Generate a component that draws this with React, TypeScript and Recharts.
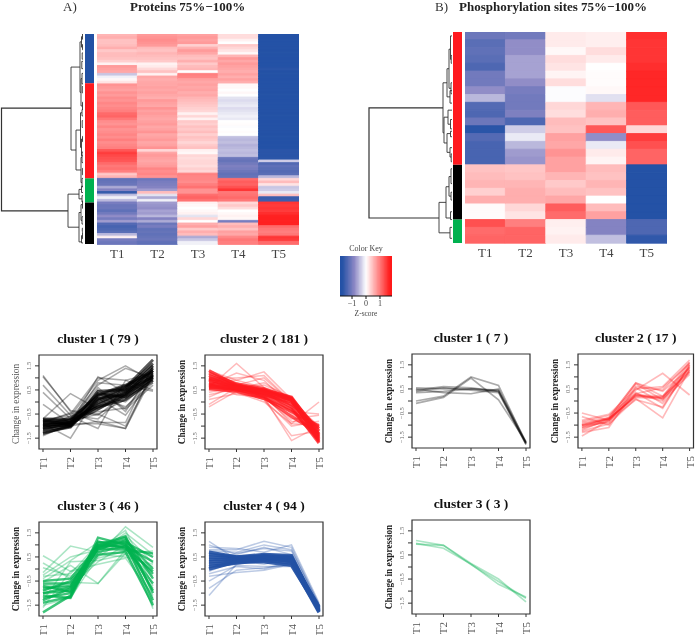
import React from "react";
import { LineChart, Line, XAxis, YAxis, BarChart, Bar, Cell, ReferenceArea } from "recharts";

const SERIF = "'Liberation Serif','Times New Roman',serif";
const timeLabels = ["T1", "T2", "T3", "T4", "T5"];

// ---------- Panel A heatmap columns (z-scores, rows top to bottom: blue 19, red 36, green 9, black 16) ----------
const heatA_T1 = [
  .55,.6,.45,.45,.5,.6,.4,.5,.5,.45,.35,.1,.75,.7,.65,-.4,-.1,.05,.2,
  .8,.75,.7,.8,.75,.85,.8,.9,.85,.9,.95,1.1,1.15,1.0,.85,.8,.9,.8,.85,.9,.85,.95,.85,.9,.95,1.25,1.45,1.35,1.3,1.25,1.1,1.0,1.05,.95,.4,.55,
  -1.2,-1.15,-1.1,-.6,-.9,-1.55,-.4,-.1,-.5,
  -1.0,-1.1,-1.1,-1.2,-1.05,-.8,-1.0,-.7,-1.3,-1.4,-1.35,-1.25,-.5,.1,-1.0,-1.1,
];
const heatA_T2 = [
  .75,.8,.85,.8,.75,.5,.45,.55,.5,.45,.4,.1,.15,.3,.45,.1,.65,.6,.65,
  .65,.7,.65,.7,.65,.6,.75,.7,.65,.8,.7,.75,.7,.65,.7,.75,.65,.7,.8,.65,.7,.75,.65,.7,.8,.3,.7,.75,.7,.65,.7,.75,.9,.85,.9,.8,
  -1.1,-1.0,-.95,-.9,-.7,.5,-.2,-.6,-.1,
  -.7,-.75,-.8,-.65,-.7,-.5,-.9,-.6,-1.1,-1.0,-1.2,-1.15,-1.2,-1.15,-1.1,-1.2,
];
const heatA_T3 = [
  .7,.75,.7,.75,.35,.6,.75,.65,.5,.45,.6,.4,.5,.55,.0,.95,.9,.7,.65,
  .7,.65,.7,.6,.65,.55,.5,.45,.4,.35,.3,.1,.3,.1,.4,.35,.45,.4,.5,.35,.45,.4,.3,.4,.45,.1,.05,.3,.25,.3,.3,.25,.35,.3,.95,.9,
  .9,.85,.95,1.05,.8,.8,1.1,1.15,1.05,
  .1,.05,0,.05,.1,-.2,.3,0,.6,.7,.4,.6,.5,-.6,-.4,-.1,
];
const heatA_T4 = [
  .25,.25,.1,0,.4,.3,.2,.05,.55,.75,.65,.75,.7,.65,.6,.7,.6,.7,.6,
  .05,.05,0,.05,0,-.2,-.25,-.2,-.15,-.25,-.2,-.15,-.1,-.15,0,.02,-.02,0,.02,0,-.45,-.5,-.45,-.55,-.5,-.45,-.5,-.45,-1.1,-1.15,-1.05,-.95,-1,-1.1,-1.2,-1.15,
  1.1,1.2,1.15,1.3,1.5,1.0,1.05,1.1,1.0,
  .3,.4,.25,0,.05,.1,.05,-1.0,.5,.6,.45,.7,.65,.9,1.0,.95,
];
const heatA_T5 = [
  -1.7,-1.7,-1.7,-1.7,-1.7,-1.7,-1.7,-1.7,-1.7,-1.7,-1.7,-1.7,-1.7,-1.65,-1.7,-1.7,-1.7,-1.7,-1.7,
  -1.7,-1.7,-1.7,-1.7,-1.7,-1.7,-1.7,-1.7,-1.7,-1.7,-1.7,-1.7,-1.7,-1.7,-1.7,-1.7,-1.7,-1.7,-1.7,-1.7,-1.7,-1.7,-1.7,-1.7,-1.7,-1.65,-1.65,-1.65,-1.65,-.35,-1.3,-1.2,-1.25,-1.3,-1.25,-.5,
  .3,.5,.2,-.4,-.35,-.15,.5,-1.5,-1.5,
  1.5,1.45,1.5,1.45,1.55,1.65,1.65,1.65,1.65,1.1,1.0,.95,1.0,1.5,1.45,1.1,
];

// ---------- Panel B heatmap columns (red 17, black 7, green 3) ----------
const heatB_T1 = [-1.1,-1.25,-1.2,-1.25,-1.35,-1.05,-1.05,-.8,-.5,-1.3,-1.35,-1.1,-1.65,-1.3,-1.4,-1.4,-1.4,.45,.5,.55,.35,.6,.03,.02,1.3,1.1,1.15];
const heatB_T2 = [-1.05,-.8,-.8,-.65,-.65,-.65,-.8,-1.0,-1.05,-1.05,-.95,-1.35,-.35,-.15,-.5,-.7,-.75,.42,.45,.55,.6,.6,.3,.2,.95,1.15,1.15];
const heatB_T3 = [.15,.15,.05,.25,.2,.08,.25,-.02,-.02,.3,.25,.5,.45,.7,.65,.8,.7,.7,.55,.4,.5,.65,1.2,1.1,.12,.1,.15];
const heatB_T4 = [.12,.12,.25,.15,.0,.02,.02,.05,-.22,.55,.6,.45,1.25,-.8,-.15,.15,.08,.5,.45,.55,.45,.0,.5,.7,-.9,-.9,-.45];
const heatB_T5 = [1.55,1.5,1.5,1.5,1.55,1.6,1.6,1.6,1.6,1.25,1.2,1.2,.3,1.45,1.3,1.15,1.15,-1.7,-1.7,-1.7,-1.7,-1.7,-1.7,-1.7,-1.35,-1.35,-1.6];

// ---------- Row side bars (cluster sizes) ----------
const sideA = [
  { name: "c4", size: 94, color: "#2251A4" },
  { name: "c2", size: 181, color: "#FF1A1F" },
  { name: "c3", size: 46, color: "#00B14F" },
  { name: "c1", size: 79, color: "#000000" },
];
const sideB = [
  { name: "c2", size: 17, color: "#FF1A1F" },
  { name: "c1", size: 7, color: "#000000" },
  { name: "c3", size: 3, color: "#00B14F" },
];

// ---------- Dendrograms: [left child height, top row, node height, bottom row, right child height] ----------
const dendroA = [
  [12,141,81.5,337,15],[3,63,12,221,7],[2.5,183,7,259,2],[1.5,15,3,111,2],
  [.5,5,1.5,25,.5],[1,85,2,137,.5],[0,75,1,95,0],[0,0,.5,10,0],[0,20,.5,30,0],[0,130,.5,144,0],
  [1,150,2.5,216,1.5],[0,144,1,156,0],[.5,200,1.5,232,0],[0,195,.5,205,0],
  [1,235,2,283,1],[0,225,1,245,0],[0,275,1,291,0],
  [4,305,15,368,4],[1.5,296,4,314,1],[0,290,1.5,302,0],[0,308,1,320,0],
  [2,340,4,396,1.5],[.5,325,2,355,1],[0,318,.5,332,0],[0,348,1,362,0],[.5,384,1.5,398,0],[0,378,.5,390,0],
  [0,36,.8,48,0],[0,52,1.2,66,0],[0,100,.7,112,0],[0,165,.8,178,0],[0,256,.6,268,0],[0,370,.7,376,0],
];
const dendroB = [
  [9,9.7,83,23.8,13],[5,6.5,9,12.9,8],[3,4.7,5,8.3,2],[1.5,2.2,3,7.2,1],[0,.5,1.5,3.5,.8],[0,3,.8,4,0],[0,6.5,1,7.9,0],[0,7.5,2,9.1,0],
  [4,10.9,8,14.2,5],[0,10,4,11.8,1.5],[0,11.2,1.5,12.4,0],[1.5,13,5,15.4,2],[0,12.7,1.5,13.4,0],[0,14.8,2,16,.8],[0,15.6,.8,16.6,0],
  [6,21.8,13,25.7,2],[3,19.8,6,23.8,1.5],[1,18.5,3,21,1],[0,17.5,1,19.4,0],[0,20.5,1,21.5,0],[0,23,1.5,24,0],[0,25,2,26.4,0],
];

// ---------- Colour key bins ----------
const keyBins = [-1.9,-1.8,-1.7,-1.6,-1.5,-1.4,-1.3,-1.2,-1.1,-1.0,-.9,-.8,-.7,-.6,-.5,-.4,-.3,-.2,-.1,0,.1,.2,.3,.4,.5,.6,.7,.8,.9,1.0,1.1,1.2,1.3,1.4,1.5,1.6,1.7,1.8,1.9];
const keyTicks = [-1, 0, 1];
const expressionTicks = [-1.5, -1, -.5, 0, .5, 1, 1.5];
const labelledTicks = [-1.5, -.5, .5, 1.5];

// ---------- Profile lines: [T1..T5]; "core" lines are the dense band, "faint" ones the outliers ----------
const a1Core = [
  [-.7,-.75,-.2,.25,1.1],[-.85,-.85,-.1,.4,1.3],[-.95,-.9,-.05,.45,1.5],[-1.05,-.95,.05,.55,1.6],[-1.15,-1,.1,.6,1.75],[-1.25,-1.05,.15,.3,1.4],
  [-.8,-.7,.25,.65,1.2],[-.9,-.8,.35,.2,1.0],[-1.0,-.85,-.2,.1,.9],[-1.1,-.9,-.3,.35,1.15],[-1.3,-1,.3,.7,1.3],[-.75,-.95,.45,.5,1.05],
];
const a1Faint = [
  [1.1,-.4,-.55,.35,.9],[1.05,-.35,-.5,.1,1.0],[.7,-.55,-.7,.3,1.05],[.4,-.7,.15,-.55,1.0],[-.1,-.9,-.9,-1.1,1.1],[-.7,.35,-.3,.2,.8],[-.9,-1.5,.3,.0,.95],
  [-1.4,-.9,1.05,.4,1.0],[-.8,-.5,1.0,.9,.5],[-1.0,-.6,.9,1.5,.85],[-1.1,-.7,.7,1.4,1.0],[-.7,-.6,-1.1,.9,1.2],[-.85,-.45,-.85,-.85,1.5],[-1,-1,-.8,-1.1,1.3],
  [-1.2,-.8,-.5,-1.0,1.2],[-.9,-1,.5,-.3,.7],[-1,-.9,.8,.7,.45],[-.75,-.8,.6,-.4,1.4],[-1.35,-1,.2,-.2,.8],[-.95,-.7,-.4,-.25,1.1],
];
const a2Core = [
  [.6,.55,.45,.15,-1.2],[.8,.65,.5,.2,-1.35],[1.0,.7,.45,.1,-1.5],[1.2,.75,.55,.15,-1.65],[.7,.5,.3,.0,-1.4],[.9,.6,.35,-.1,-1.1],
  [1.1,.65,.25,-.3,-1.6],[.55,.45,.15,-.4,-1.0],[.75,.55,.2,-.6,-1.3],[.95,.65,.4,-.2,-1.7],[1.3,.7,.5,.05,-1.45],[.65,.6,.4,.1,-1.55],
];
const a2Faint = [
  [-.2,.45,.55,.1,-1.3],[-.1,.6,.4,-.3,-1.2],[.1,.35,.2,-.8,-.9],[.2,.7,1.0,.0,-1.0],[.6,1.6,.6,-.5,-1.1],[.7,1.2,.9,-.2,-1.3],[.9,.9,1.25,.1,-1.5],[1.0,1.0,1.1,.0,-1.4],
  [.8,.3,.2,-1.6,-1.0],[.6,.45,.1,-1.4,-1.2],[.5,.4,.0,-.9,.0],[.7,.5,.3,-.4,-.5],[.85,.6,.2,-.7,-.55],[1.1,.8,.3,-.9,-.95],[.9,.5,.1,-1.0,-.8],[1.3,.9,.6,.2,-1.2],[.4,.6,.7,.2,-1.6],[.3,.55,.8,.1,-1.4],
];
const a3Core = [
  [-1.8,-1.1,.9,1.3,-.4],[-1.4,-1.15,1.3,1.0,-.2],[-1.2,-1.0,1.1,1.1,-.9],[-1.0,-.9,.9,1.0,-1.3],[-.8,-.7,1.0,.9,-.6],[-.6,-.6,.8,1.2,.0],
  [-1.1,-1.2,1.0,1.35,-1.0],[-.9,-.5,.7,.95,.3],[-1.3,-.8,.85,.8,.65],[-.7,-.95,.6,.7,-1.5],[-.5,-.4,.95,1.1,.5],[-1.0,-.75,1.15,.85,-.1],
];
const a3Faint = [
  [.55,-.1,.6,.5,.2],[.25,-.4,.45,.75,-.3],[.05,-.3,.55,1.75,.9],[-.15,.95,.7,1.5,.6],[-.25,.5,.8,1.6,-.7],[-.4,.35,1.1,1.2,-1.65],[-.55,.15,-.6,.8,-1.55],
  [-.9,-.55,-.6,.65,.75],[-1.6,-.1,.2,.45,-1.1],[-1.3,.3,.35,.6,.1],[-.65,-.75,.3,1.0,-1.2],[-.3,-.2,1.05,.9,-.8],[-1.5,-1.2,.5,1.25,-1.4],[-.75,-.85,.9,1.4,.25],
];
const a4Core = [
  [.6,.5,.6,.55,-1.75],[.5,.45,.55,.5,-1.65],[.4,.4,.5,.45,-1.7],[.3,.35,.45,.4,-1.6],[.2,.3,.4,.35,-1.75],[.1,.25,.35,.25,-1.8],[.7,.5,.5,.3,-1.55],[.0,.3,.3,.15,-1.7],
];
const a4Faint = [
  [1.15,.4,.6,.5,-1.6],[1.0,.6,.9,.6,-1.7],[.9,.85,.7,1.0,-1.4],[.8,.8,1.15,.9,-1.5],[.75,.7,1.0,.8,-1.55],[-.2,.1,.0,.3,-1.75],[-.3,-.15,-.05,.2,-1.65],
  [-.5,.15,.1,.1,-1.8],[-.8,-.05,.05,.2,-1.7],[-1.1,.2,.4,.3,-1.75],[-.1,.35,.2,.45,-1.6],[.3,.65,.85,.75,-1.45],
];
const b1Lines = [
  [.55,.5,.5,.45,-1.75],[.45,.6,.55,.4,-1.75],[.4,.55,.45,.35,-1.8],[.35,.4,.5,.4,-1.8],[.5,.35,.3,.5,-1.7],[-.0,.2,1.0,.65,-1.75],[-.1,.15,.95,.05,-1.7],
];
const b2Lines = [
  [-1.0,-.75,.2,.15,1.5],[-1.05,-.75,.2,.15,1.4],[-1.1,-.7,.15,.1,1.3],[-.95,-.75,.25,.2,1.6],[-1.15,-.8,.25,.1,1.25],[-1.0,-.7,.75,.4,1.35],[-.9,-.7,.75,.2,1.2],
  [-.5,-.8,.7,.05,1.1],[-.65,-1.0,.3,.55,1.55],[-.8,-.55,.5,.6,1.7],[-1.2,-.75,.45,1.15,.25],[-1.25,-.95,.1,-.7,1.3],[-1.45,-.8,.05,-.25,1.45],[-1.3,-1.1,.55,-.1,1.2],
  [-1.1,-.85,.35,-.3,1.5],[-.85,-.6,.3,.0,1.4],[-1.0,-.9,.6,.45,1.6],
];
const b3Lines = [
  [1.1,.9,.15,-.5,-1.45],[.95,.9,.1,-.6,-1.3],[.98,.78,.12,-.72,-1.25],
];

const BLUE = "#2251A4", RED = "#FF1A1F", GREEN = "#00B14F", BLACK = "#000000";

// ---------- Helpers ----------
function mix(a: number[], b: number[], t: number) {
  return `rgb(${a.map((v, i) => Math.round(v + (b[i] - v) * t)).join(",")})`;
}
function zColor(z: number) {
  if (z >= 0) return mix([255, 255, 255], [255, 26, 26], Math.min(z / 1.7, 1));
  const t = Math.min(-z / 1.7, 1);
  if (t < 0.5) return mix([255, 255, 255], [138, 134, 196], t * 2);
  return mix([138, 134, 196], [36, 82, 166], (t - 0.5) * 2);
}

function Heatmap({ left, top, width, height, columns }: any) {
  const rows = columns[0].map((_: number, i: number) => {
    const r: any = { row: i };
    timeLabels.forEach((_t, c) => { r["cell" + c] = 1; });
    return r;
  });
  return (
    <div style={{ position: "absolute", left, top }}>
      <BarChart width={width} height={height + 22} data={rows} layout="vertical" barCategoryGap={0} margin={{ top: 0, right: 0, bottom: 0, left: 0 }}>
        <XAxis type="number" domain={[0, 5]} ticks={[.5, 1.5, 2.5, 3.5, 4.5]} interval={0} height={22} axisLine={false} tickLine={false} tickMargin={1}
          tickFormatter={(v: number) => timeLabels[Math.floor(v)]} tick={{ fontSize: 13, fontFamily: SERIF, fill: "#444", dy: -2 }} />
        <YAxis type="category" dataKey="row" hide />
        {timeLabels.map((t, c) => (
          <Bar key={t} dataKey={"cell" + c} stackId="h" isAnimationActive={false}>
            {columns[c].map((z: number, i: number) => <Cell key={i} fill={zColor(z)} stroke={zColor(z)} strokeWidth={0.9} />)}
          </Bar>
        ))}
      </BarChart>
    </div>
  );
}

function SideBar({ left, top, height, clusters }: any) {
  const row: any = { k: "side" };
  clusters.forEach((c: any) => { row[c.name] = c.size; });
  const total = clusters.reduce((s: number, c: any) => s + c.size, 0);
  return (
    <div style={{ position: "absolute", left, top }}>
      <BarChart width={9} height={height} data={[row]} barCategoryGap={0} margin={{ top: 0, right: 0, bottom: 0, left: 0 }}>
        <XAxis dataKey="k" hide />
        <YAxis type="number" domain={[0, total]} reversed hide />
        {clusters.map((c: any) => <Bar key={c.name} dataKey={c.name} stackId="s" fill={c.color} isAnimationActive={false} />)}
      </BarChart>
    </div>
  );
}

function Dendrogram({ left, top, width, height, merges, rows }: any) {
  return (
    <div style={{ position: "absolute", left, top }}>
      <LineChart width={width} height={height} margin={{ top: 0, right: 0, bottom: 0, left: 0 }}>
        <XAxis type="number" dataKey="h" domain={[0, width]} reversed hide />
        <YAxis type="number" dataKey="r" domain={[0, rows]} reversed hide />
        {merges.map((m: number[], i: number) => (
          <Line key={i} isAnimationActive={false} dot={false} legendType="none" dataKey="r" stroke="#333" strokeWidth={i === 0 ? 1.2 : 0.9}
            data={[{ h: m[0], r: m[1] }, { h: m[2], r: m[1] }, { h: m[2], r: m[3] }, { h: m[4], r: m[3] }]} />
        ))}
      </LineChart>
    </div>
  );
}

function ColorKey() {
  const anchor = [{ z: -1.86, v: 0 }, { z: 1.86, v: 1 }];
  return (
    <div style={{ position: "absolute", left: 340, top: 256 }}>
      <LineChart width={52} height={58} data={anchor} margin={{ top: 0, right: 0, bottom: 0, left: 0 }}>
        <XAxis type="number" dataKey="z" domain={[-1.86, 1.86]} ticks={keyTicks} interval={0} height={18} stroke="#111" tickSize={3} tickMargin={1}
          tickFormatter={(v: number) => (v < 0 ? "\u2212" + Math.abs(v) : String(v))} tick={{ fontSize: 8, fontFamily: SERIF, fill: "#444" }} />
        <YAxis type="number" dataKey="v" domain={[0, 1]} hide />
        <Line dataKey="v" stroke="none" dot={false} isAnimationActive={false} />
        {keyBins.slice(0, -1).map((b, i) => (
          <ReferenceArea key={i} x1={Math.max(b, -1.86)} x2={Math.min(keyBins[i + 1] + .08, 1.86)} y1={0} y2={1} fill={zColor((b + keyBins[i + 1]) / 2)} fillOpacity={1} stroke="none" ifOverflow="hidden" />
        ))}
      </LineChart>
    </div>
  );
}

function Profile({ left, top, width, title, color, core, faint, boldLabel, coreWidth, coreOpacity, faintOpacity, faintWidth, labelShift }: any) {
  const YW = 40, XH = 24, M = 2, H = 94;
  const all = [...(faint || []), ...(core || [])];
  const table = timeLabels.map((t, i) => {
    const r: any = { x: i, t };
    all.forEach((l: number[], j: number) => { r["s" + j] = l[i]; });
    return r;
  });
  const nf = (faint || []).length;
  return (
    <>
      <div style={{ position: "absolute", left: left + width / 2, top: top - 24, transform: "translateX(-50%)", whiteSpace: "nowrap", fontFamily: SERIF, fontWeight: 700, fontSize: 13.5, lineHeight: "16px", color: "#111" }}>{title}</div>
      <div style={{ position: "absolute", left: left - YW, top: top - M }}>
        <LineChart width={YW + width + M} height={M + H + XH} data={table} margin={{ top: M, right: M, bottom: 0, left: 0 }}>
          <XAxis type="number" dataKey="x" domain={[-.145, 4.145]} ticks={[0, 1, 2, 3, 4]} interval={0} height={XH} axisLine={false} stroke="#333" tickSize={3}
            tick={(p: any) => (
              <text x={p.x} y={p.y + 3} transform={`rotate(-90 ${p.x} ${p.y + 3})`} textAnchor="end" dominantBaseline="central" fontSize={11} fontFamily={SERIF} fill="#555">{timeLabels[p.payload.value]}</text>
            )} />
          <YAxis type="number" domain={[-1.95, 1.95]} ticks={expressionTicks} interval={0} width={YW} axisLine={false} stroke="#333" tickSize={4}
            label={{ value: "Change in expression", angle: -90, position: "center", dx: -3, dy: labelShift || 0, style: { fontFamily: SERIF, fontSize: 9.3, fontWeight: boldLabel ? 700 : 400, fill: boldLabel ? "#222" : "#555" } }}
            tick={(p: any) => labelledTicks.includes(p.payload.value) ? (
              <text x={p.x - 2} y={p.y} transform={`rotate(-90 ${p.x - 2} ${p.y})`} textAnchor="middle" fontSize={6.5} fontFamily={SERIF} fill="#666">{p.payload.value < 0 ? "\u2212" + Math.abs(p.payload.value) : p.payload.value}</text>
            ) : <g />} />
          {all.map((_: any, j: number) => (
            <Line key={j} dataKey={"s" + j} isAnimationActive={false} dot={false} stroke={color}
              strokeWidth={j < nf ? faintWidth : coreWidth} strokeOpacity={j < nf ? faintOpacity : coreOpacity} />
          ))}
          <ReferenceArea x1={-.145} x2={4.145} y1={-1.95} y2={1.95} fill="none" stroke="#333" strokeWidth={1.2} ifOverflow="visible" />
        </LineChart>
      </div>
    </>
  );
}

const abs = (extra: any): any => ({ position: "absolute", fontFamily: SERIF, whiteSpace: "nowrap", lineHeight: 1, ...extra });

export default function App() {
  return (
    <div style={{ position: "absolute", left: 0, top: 0, width: 696, height: 635, overflow: "hidden", background: "#fff", filter: "blur(0.5px)" }}>
      <div style={abs({ left: 63, top: 0, fontSize: 13, color: "#333" })}>A)</div>
      <div style={abs({ left: 130, top: 0, fontSize: 13, fontWeight: 700, color: "#222" })}>Proteins 75%{"\u2212"}100%</div>
      <div style={abs({ left: 435, top: 0, fontSize: 13, color: "#333" })}>B)</div>
      <div style={abs({ left: 459, top: 0, fontSize: 13, fontWeight: 700, color: "#222" })}>Phosphorylation sites 75%{"\u2212"}100%</div>

      <Dendrogram left={0} top={34} width={83} height={210} merges={dendroA} rows={400} />
      <SideBar left={85} top={34} height={210} clusters={sideA} />
      <Heatmap left={97} top={34} width={202} height={210} columns={[heatA_T1, heatA_T2, heatA_T3, heatA_T4, heatA_T5]} />

      <Dendrogram left={368} top={32} width={84} height={211} merges={dendroB} rows={27} />
      <SideBar left={453} top={32} height={211} clusters={sideB} />
      <Heatmap left={465} top={32} width={202} height={211} columns={[heatB_T1, heatB_T2, heatB_T3, heatB_T4, heatB_T5]} />

      <div style={abs({ left: 366, top: 245, transform: "translateX(-50%)", fontSize: 8, color: "#444" })}>Color Key</div>
      <ColorKey />
      <div style={abs({ left: 366, top: 310, transform: "translateX(-50%)", fontSize: 7.5, color: "#444" })}>Z-score</div>

      <Profile left={39} top={355} width={118} title="cluster 1 ( 79 )" color={BLACK} core={a1Core} faint={a1Faint} boldLabel={false} labelShift={2} coreWidth={2.8} coreOpacity={.65} faintWidth={1.5} faintOpacity={.33} />
      <Profile left={205} top={355} width={118} title="cluster 2 ( 181 )" color={RED} core={a2Core} faint={a2Faint} boldLabel coreWidth={3.2} coreOpacity={.75} faintWidth={1.5} faintOpacity={.3} />
      <Profile left={39} top={522} width={118} title="cluster 3 ( 46 )" color={GREEN} core={a3Core} faint={a3Faint} boldLabel coreWidth={2.4} coreOpacity={.75} faintWidth={1.5} faintOpacity={.33} />
      <Profile left={205} top={522} width={118} title="cluster 4 ( 94 )" color={BLUE} core={a4Core} faint={a4Faint} boldLabel coreWidth={3.4} coreOpacity={.9} faintWidth={1.5} faintOpacity={.3} />

      <Profile left={412} top={354} width={118} title="cluster 1 ( 7 )" color={BLACK} core={[]} faint={b1Lines} boldLabel coreWidth={1.5} coreOpacity={.3} faintWidth={1.7} faintOpacity={.33} />
      <Profile left={578} top={354} width={115.5} title="cluster 2 ( 17 )" color={RED} core={[]} faint={b2Lines} boldLabel coreWidth={1.5} coreOpacity={.3} faintWidth={1.7} faintOpacity={.3} />
      <Profile left={412} top={520} width={118} title="cluster 3 ( 3 )" color={GREEN} core={[]} faint={b3Lines} boldLabel coreWidth={1.5} coreOpacity={.3} faintWidth={1.7} faintOpacity={.33} />
    </div>
  );
}
